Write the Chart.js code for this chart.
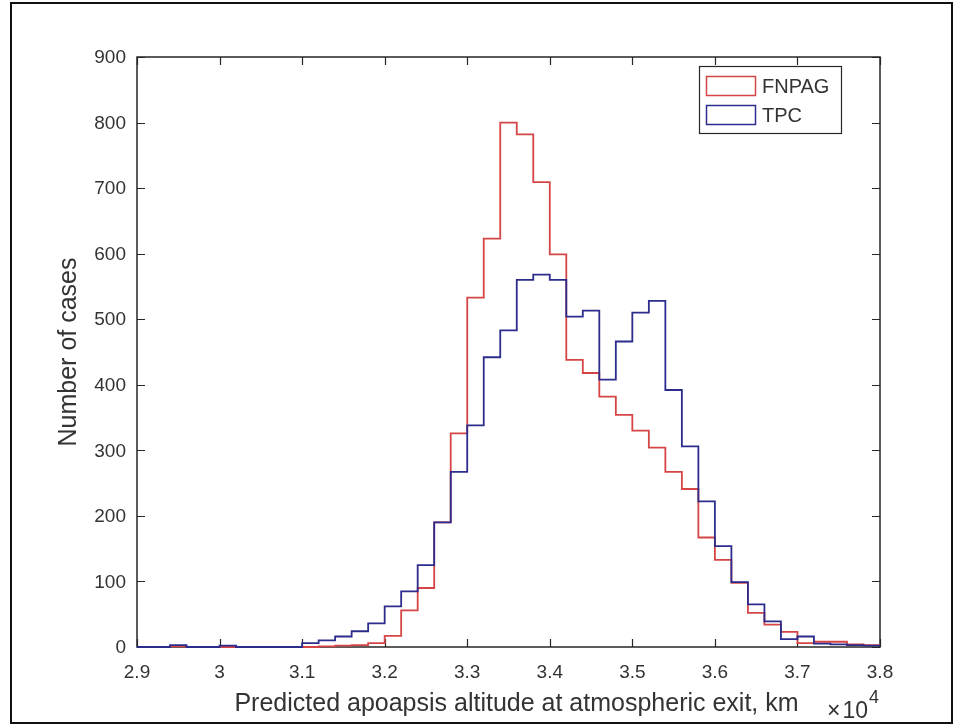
<!DOCTYPE html>
<html>
<head>
<meta charset="utf-8">
<title>Predicted apoapsis altitude histogram</title>
<script src="https://cdn.jsdelivr.net/npm/chart.js@4.4.0/dist/chart.umd.min.js"></script>
<style>
  html, body { margin: 0; padding: 0; background: #fff; }
  #wrap { position: relative; width: 963px; height: 725px; }
</style>
</head>
<body>
<div id="wrap"><canvas id="hist" width="963" height="725"></canvas></div>
<script>
// left edge of each bin, in units of 1e4 km (bins are 0.02 wide)
const binEdges = [
  2.90, 2.92, 2.94, 2.96, 2.98, 3.00, 3.02, 3.04, 3.06, 3.08,
  3.10, 3.12, 3.14, 3.16, 3.18, 3.20, 3.22, 3.24, 3.26, 3.28,
  3.30, 3.32, 3.34, 3.36, 3.38, 3.40, 3.42, 3.44, 3.46, 3.48,
  3.50, 3.52, 3.54, 3.56, 3.58, 3.60, 3.62, 3.64, 3.66, 3.68,
  3.70, 3.72, 3.74, 3.76, 3.78
];
const lastEdge = 3.80;

const fnpagCounts = [
  0, 0, 1, 0, 0, 0, 0, 0, 0, 0,
  0, 1, 2, 3, 6, 17, 56, 90, 190, 326,
  533, 623, 800, 782, 709, 599, 438, 418, 382, 354,
  330, 304, 267, 241, 167, 133, 98, 52, 34, 23,
  6, 8, 8, 4, 3
];
const tpcCounts = [
  0, 0, 3, 0, 0, 2, 0, 0, 0, 0,
  6, 10, 16, 24, 36, 62, 85, 125, 190, 267,
  338, 442, 483, 560, 568, 560, 504, 513, 408, 466,
  510, 528, 392, 306, 222, 154, 99, 65, 39, 12,
  16, 5, 4, 3, 2
];

const xTicks = [2.9, 3.0, 3.1, 3.2, 3.3, 3.4, 3.5, 3.6, 3.7, 3.8];
const yTicks = [0, 100, 200, 300, 400, 500, 600, 700, 800, 900];

const xTitle = 'Predicted apoapsis altitude at atmospheric exit, km';
const yTitle = 'Number of cases';

const axisColor = '#262626';
const textColor = '#333333';
const fontFamily = 'Arial, "Liberation Sans", Helvetica, sans-serif';

// stairs outline: one point per bin edge, last count repeated at the closing edge
function stairs(counts) {
  const pts = binEdges.map((x, i) => ({ x: x, y: counts[i] }));
  pts.push({ x: lastEdge, y: counts[counts.length - 1] });
  return pts;
}

// MATLAB-style box with inward ticks, drawn under the data
const axesBox = {
  id: 'axesBox',
  beforeDatasetsDraw(chart) {
    const { ctx, chartArea: a } = chart;
    const xs = chart.scales.x, ys = chart.scales.y;
    const tick = 8;
    ctx.save();
    ctx.strokeStyle = axisColor;
    ctx.lineWidth = 1.5;
    ctx.strokeRect(a.left, a.top, a.right - a.left, a.bottom - a.top);
    ctx.beginPath();
    xTicks.forEach(v => {
      const px = Math.round(xs.getPixelForValue(v)) + 0.5;
      ctx.moveTo(px, a.bottom); ctx.lineTo(px, a.bottom - tick);
      ctx.moveTo(px, a.top); ctx.lineTo(px, a.top + tick);
    });
    yTicks.forEach(v => {
      const py = Math.round(ys.getPixelForValue(v)) + 0.5;
      ctx.moveTo(a.left, py); ctx.lineTo(a.left + tick, py);
      ctx.moveTo(a.right, py); ctx.lineTo(a.right - tick, py);
    });
    ctx.lineWidth = 1.2;
    ctx.stroke();

    // tick labels
    ctx.fillStyle = textColor;
    ctx.font = '19px ' + fontFamily;
    ctx.textAlign = 'center';
    ctx.textBaseline = 'alphabetic';
    xTicks.forEach(v => {
      ctx.fillText(String(Math.round(v * 10) / 10), xs.getPixelForValue(v), 678);
    });
    ctx.textAlign = 'right';
    ctx.textBaseline = 'middle';
    yTicks.forEach(v => {
      ctx.fillText(String(v), a.left - 11, ys.getPixelForValue(v) + 1);
    });
    ctx.restore();
  },
  afterDraw(chart) {
    const { ctx, chartArea: a } = chart;
    ctx.save();
    // outer figure frame
    ctx.strokeStyle = '#111';
    ctx.lineWidth = 2;
    ctx.strokeRect(11, 3, 941, 720);

    ctx.fillStyle = textColor;
    // axis titles
    ctx.font = '25px ' + fontFamily;
    ctx.textAlign = 'center';
    ctx.textBaseline = 'alphabetic';
    ctx.fillText(xTitle, (a.left + a.right) / 2 + 8, 711);
    ctx.save();
    ctx.translate(76, (a.top + a.bottom) / 2);
    ctx.rotate(-Math.PI / 2);
    ctx.fillText(yTitle, 0, 0);
    ctx.restore();

    // x10^4 exponent
    ctx.font = '23px ' + fontFamily;
    ctx.textAlign = 'right';
    ctx.fillText('\u00d7\u200a10', 868, 718);
    ctx.font = '18px ' + fontFamily;
    ctx.textAlign = 'left';
    ctx.fillText('4', 869, 703);

    // legend
    const lx = 699, ly = 66, lw = 142, lh = 67;
    ctx.fillStyle = '#fff';
    ctx.fillRect(lx, ly, lw, lh);
    ctx.strokeStyle = axisColor;
    ctx.lineWidth = 1.2;
    ctx.strokeRect(lx + 0.5, ly + 0.5, lw, lh);
    ctx.font = '20px ' + fontFamily;
    ctx.textBaseline = 'middle';
    chart.data.datasets.forEach((ds, i) => {
      const ry = ly + 10 + i * 29;
      ctx.strokeStyle = ds.borderColor;
      ctx.lineWidth = 1.5;
      ctx.strokeRect(lx + 7.5, ry + 0.5, 49, 19);
      ctx.fillStyle = textColor;
      ctx.textAlign = 'left';
      ctx.fillText(ds.label, lx + 63, ry + 11);
    });
    ctx.restore();
  }
};

new Chart(document.getElementById('hist'), {
  type: 'line',
  data: {
    datasets: [{
      label: 'FNPAG',
      data: stairs(fnpagCounts),
      borderColor: '#d64545',
      borderWidth: 1.8,
      stepped: 'before',
      pointRadius: 0,
      fill: false,
      clip: false,
      order: 1
    }, {
      label: 'TPC',
      data: stairs(tpcCounts),
      borderColor: '#2c2c8c',
      borderWidth: 1.8,
      stepped: 'before',
      pointRadius: 0,
      fill: false,
      clip: false,
      order: 0
    }]
  },
  options: {
    responsive: false,
    animation: false,
    layout: { padding: { top: 57, right: 83, left: 0, bottom: 0 } },
    plugins: {
      legend: { display: false },
      tooltip: { enabled: false }
    },
    scales: {
      x: {
        type: 'linear',
        min: 2.9,
        max: 3.8,
        afterBuildTicks: s => { s.ticks = xTicks.map(v => ({ value: v })); },
        afterFit: s => { s.height = 78; },
        grid: { display: false, drawTicks: false },
        border: { display: false },
        ticks: { display: false }
      },
      y: {
        min: 0,
        max: 900,
        afterBuildTicks: s => { s.ticks = yTicks.map(v => ({ value: v })); },
        afterFit: s => { s.width = 137; },
        grid: { display: false, drawTicks: false },
        border: { display: false },
        ticks: { display: false }
      }
    }
  },
  plugins: [axesBox]
});
</script>
</body>
</html>
